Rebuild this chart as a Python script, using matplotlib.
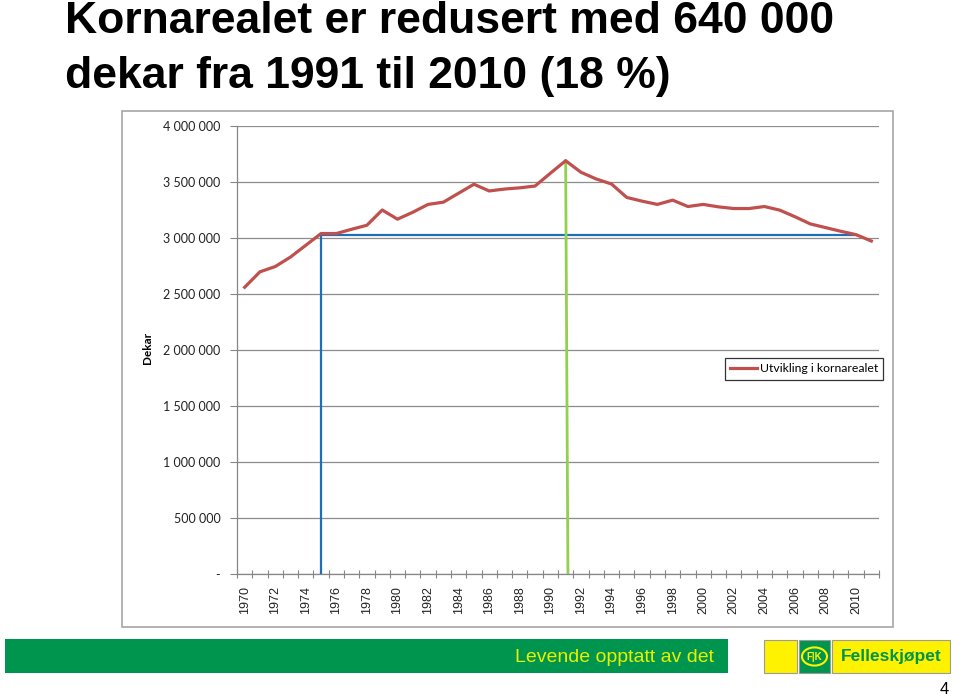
import matplotlib
matplotlib.use("Agg")
import matplotlib.pyplot as plt
from matplotlib.patches import Rectangle, Circle
from matplotlib.ticker import FixedLocator, FuncFormatter, MultipleLocator

# ---------------- data ----------------
years = list(range(1970, 2012))
areal = [2560000, 2698000, 2745000, 2830000, 2935000, 3040000, 3040000, 3078000,
         3114000, 3250000, 3168000, 3230000, 3300000, 3320000, 3400000, 3480000,
         3420000, 3437000, 3448000, 3464000, 3578000, 3690000, 3587000, 3527000,
         3482000, 3362000, 3329000, 3300000, 3338000, 3281000, 3300000, 3278000,
         3263000, 3263000, 3281000, 3249000, 3190000, 3126000, 3093000, 3060000,
         3030000, 2973000]
ref_start_year = 1975
ref_end_year = 2010
ref_level = 3030000
peak_year = 1991
series_label = "Utvikling i kornarealet"
y_label = "Dekar"
title_lines = ["Kornarealet er redusert med 640 000", "dekar fra 1991 til 2010 (18 %)"]
footer_text = "Levende opptatt av det"
brand = "Felleskjøpet"
page_no = "4"

W, H = 960, 697
fig = plt.figure(figsize=(W / 100, H / 100), dpi=100)

def fx(px):
    return px / W

def fy(py):
    return 1 - py / H

# title
for line, base in zip(title_lines, [33, 88]):
    fig.text(fx(65), fy(base), line, fontsize=32, fontweight="bold",
             family="Liberation Sans", ha="left", va="baseline", color="black")

# chart frame
fig.patches.append(Rectangle((fx(122), fy(627)), fx(893) - fx(122), fy(111) - fy(627),
                             transform=fig.transFigure, fill=False,
                             edgecolor="#A6A6A6", lw=1.2))

ax = fig.add_axes([fx(237), fy(574), fx(879) - fx(237), fy(126) - fy(574)])
x = list(range(len(years)))
ax.plot(x, areal, color="#C0504D", lw=2.3, label=series_label, zorder=4,
        solid_joinstyle="round")

i0 = years.index(ref_start_year)
i1 = years.index(ref_end_year)
ip = years.index(peak_year)
ax.plot([i0, i0, i1], [0, ref_level, ref_level], color="#1F6EB8", lw=1.6, zorder=3)
ax.plot([ip + 0.15, ip], [0, areal[ip]], color="#92D050", lw=2.0, zorder=3)

ax.set_xlim(-0.5, len(years) - 0.5)
ax.set_ylim(0, 4000000)

# y axis
ax.yaxis.set_major_locator(MultipleLocator(500000))
def yfmt(v, pos):
    if v == 0:
        return "-"
    return f"{int(v):,}".replace(",", " ")
ax.yaxis.set_major_formatter(FuncFormatter(yfmt))
ax.tick_params(axis="y", length=5, width=0.8, color="#868686", pad=7,
               labelsize=9, labelcolor="#222222")
for lbl in ax.get_yticklabels():
    lbl.set_family("Lato")
ax.grid(axis="y", color="#8C8C8C", lw=0.9)
ax.set_axisbelow(True)

# x axis
ax.xaxis.set_major_locator(FixedLocator(x[::2]))
ax.set_xticklabels([str(y) for y in years[::2]], rotation=90, fontsize=9,
                   family="Liberation Sans", color="#222222")
ax.xaxis.set_minor_locator(FixedLocator([i - 0.5 for i in range(len(years) + 1)]))
ax.tick_params(axis="x", which="major", length=0, pad=9)
ax.tick_params(axis="x", which="minor", length=6, direction="inout", width=0.8,
               color="#868686")

for s in ["top", "right"]:
    ax.spines[s].set_visible(False)
for s in ["left", "bottom"]:
    ax.spines[s].set_color("#868686")
    ax.spines[s].set_linewidth(0.9)

fig.text(fx(148), fy(348), y_label, rotation=90, fontsize=8.5, fontweight="bold",
         family="Lato", ha="center", va="center")

leg = ax.legend(loc="center", bbox_to_anchor=(fx(804), fy(369)),
                bbox_transform=fig.transFigure, fancybox=False, frameon=True,
                handlelength=2.2, handletextpad=0.2, borderpad=0.45,
                prop={"family": "Lato", "size": 8.8})
leg.get_frame().set_edgecolor("black")
leg.get_frame().set_linewidth(0.9)

# footer
fig.patches.append(Rectangle((fx(5), fy(673)), fx(728) - fx(5), fy(639) - fy(673),
                             transform=fig.transFigure, facecolor="#00954F",
                             edgecolor="none"))
fig.text(fx(714), fy(657), footer_text, fontsize=14, color="#E8F000",
         family=["Liberation Sans Narrow", "Liberation Sans"], ha="right", va="center")

# logo
def box(x0, y0, x1, y1, fc):
    fig.patches.append(Rectangle((fx(x0), fy(y1)), fx(x1) - fx(x0), fy(y0) - fy(y1),
                                 transform=fig.transFigure, facecolor=fc,
                                 edgecolor="#9A9A9A", lw=0.8))
box(764, 640, 797, 673, "#FFF200")
box(799, 640, 830, 673, "#00954F")
box(832, 640, 950, 673, "#FFF200")
fig.patches.append(Circle((fx(814.5), fy(656.5)), 12.5 / W, transform=fig.transFigure,
                          fill=False, edgecolor="#FFF200", lw=1.5))
fig.text(fx(814.5), fy(657), "F|K", fontsize=7, fontweight="bold", color="#FFF200",
         family="Liberation Sans", ha="center", va="center")
fig.text(fx(891), fy(657), brand, fontsize=12.5, fontweight="bold", color="#00954F",
         family=["Liberation Sans Narrow", "Liberation Sans"], ha="center", va="center")

fig.text(fx(944), fy(689), page_no, fontsize=12, color="black",
         family=["Liberation Sans Narrow", "Liberation Sans"], ha="center", va="center")

fig.savefig("out.png", dpi=100)
